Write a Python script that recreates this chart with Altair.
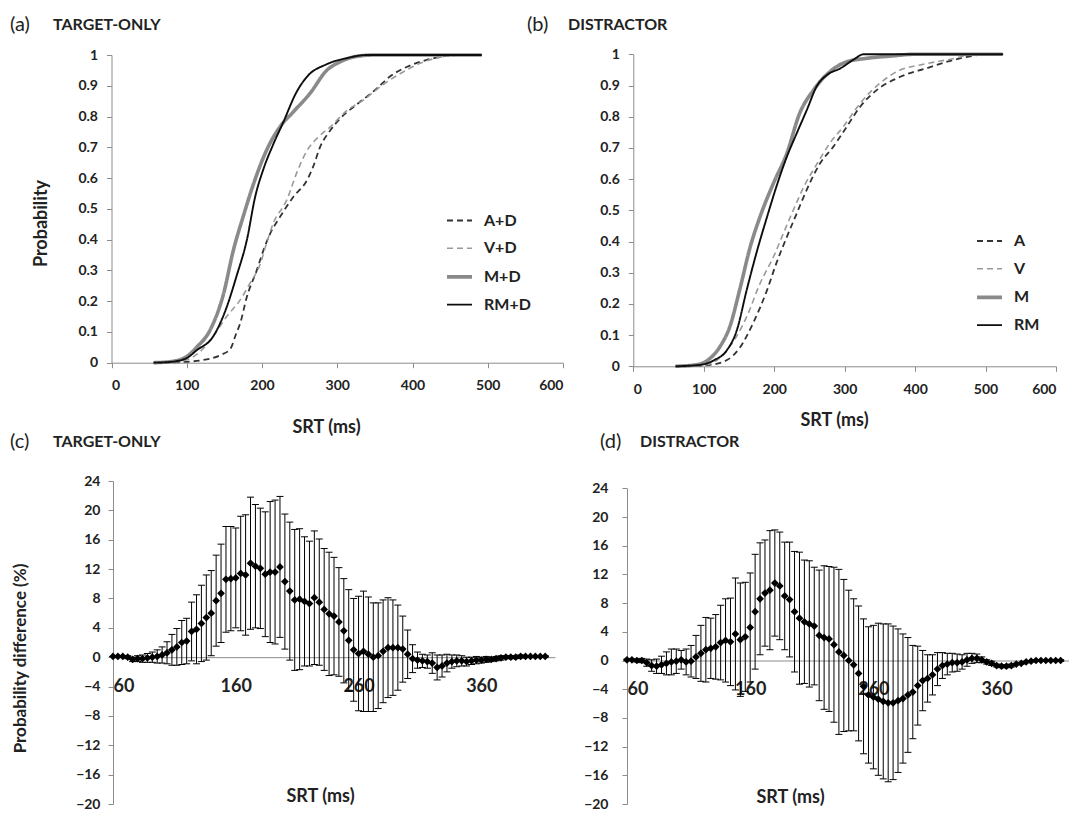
import altair as alt
import pandas as pd

W, H = 1061, 803
FONT = "Lato"
AXC = "#8c8c8c"
TXT = "#222222"

# ---------------- Panel (a): TARGET-ONLY cumulative distributions ----------------
a_series = ["A+D", "V+D", "M+D", "RM+D"]
a_AD_ms = [56, 90, 120, 145, 158, 165, 171, 180, 193, 202, 211, 224, 242, 260, 268, 277, 291, 304, 322, 339, 353, 370, 393, 419, 446, 460, 480]
a_AD_p = [0, 0.002, 0.008, 0.025, 0.045, 0.09, 0.128, 0.215, 0.30, 0.366, 0.42, 0.474, 0.54, 0.594, 0.637, 0.70, 0.756, 0.794, 0.832, 0.864, 0.892, 0.93, 0.962, 0.984, 0.997, 1.0, 1.0]
a_VD_ms = [56, 90, 115, 135, 153, 171, 184, 198, 206, 215, 233, 246, 260, 273, 291, 313, 335, 357, 384, 410, 437, 455, 480]
a_VD_p = [0, 0.004, 0.03, 0.085, 0.15, 0.204, 0.258, 0.323, 0.388, 0.453, 0.529, 0.616, 0.69, 0.729, 0.767, 0.82, 0.854, 0.897, 0.94, 0.973, 0.993, 1.0, 1.0]
a_MD_ms = [56, 80, 100, 113, 131, 149, 162, 175, 189, 206, 224, 242, 264, 286, 304, 330, 350, 492]
a_MD_p = [0, 0.004, 0.02, 0.05, 0.106, 0.225, 0.366, 0.475, 0.583, 0.69, 0.767, 0.816, 0.876, 0.95, 0.978, 0.997, 1.0, 1.0]
a_RMD_ms = [56, 80, 100, 113, 135, 153, 166, 180, 191, 202, 215, 228, 246, 260, 286, 313, 339, 492]
a_RMD_p = [0, 0.003, 0.015, 0.04, 0.085, 0.18, 0.28, 0.40, 0.54, 0.63, 0.71, 0.78, 0.88, 0.93, 0.97, 0.99, 1.0, 1.0]

# ---------------- Panel (b): DISTRACTOR cumulative distributions ----------------
b_series = ["A", "V", "M", "RM"]
b_A_ms = [60, 106, 133, 151, 170, 190, 203, 218, 232, 246, 265, 284, 303, 322, 346, 379, 416, 455, 482, 500, 522]
b_A_p = [0, 0.004, 0.02, 0.059, 0.138, 0.245, 0.33, 0.415, 0.49, 0.565, 0.65, 0.704, 0.768, 0.832, 0.886, 0.928, 0.955, 0.982, 0.995, 1.0, 1.0]
b_V_ms = [60, 101, 122, 137, 161, 180, 199, 213, 227, 242, 261, 279, 298, 322, 350, 379, 407, 445, 490, 522]
b_V_p = [0, 0.004, 0.025, 0.063, 0.159, 0.266, 0.351, 0.426, 0.50, 0.575, 0.65, 0.715, 0.768, 0.843, 0.907, 0.95, 0.966, 0.982, 1.0, 1.0]
b_M_ms = [60, 90, 106, 123, 137, 151, 166, 180, 199, 218, 236, 256, 279, 303, 331, 369, 397, 524]
b_M_p = [0, 0.005, 0.02, 0.063, 0.127, 0.245, 0.383, 0.48, 0.587, 0.683, 0.81, 0.886, 0.944, 0.976, 0.987, 0.995, 1.0, 1.0]
b_RM_ms = [60, 96, 115, 133, 147, 161, 176, 190, 203, 218, 232, 246, 261, 275, 294, 312, 327, 525]
b_RM_p = [0, 0.005, 0.02, 0.052, 0.116, 0.245, 0.373, 0.48, 0.575, 0.672, 0.747, 0.82, 0.90, 0.934, 0.955, 0.982, 1.0, 1.0]

# ---------------- Panels (c)/(d): probability difference (%) with error bars ----------------
diff_ms = list(range(60, 416, 4))
c_mean = [0.1, 0.1, 0.1, 0.0, -0.3, -0.2, -0.2, -0.1, 0.0, 0.1,
          0.3, 0.6, 1.0, 1.4, 2.0, 2.2, 3.5, 3.8, 4.6, 5.4,
          6.0, 7.7, 8.7, 10.6, 10.7, 10.8, 11.4, 11.2, 12.8, 12.4,
          12.1, 11.3, 11.6, 11.6, 12.3, 10.3, 9.0, 7.8, 7.9, 7.6,
          7.3, 8.1, 7.5, 6.5, 5.9, 5.6, 4.8, 3.6, 2.3, 1.0,
          0.5, 0.8, 0.4, 0.0, 0.2, 0.8, 1.3, 1.3, 1.3, 1.1,
          0.4, -0.2, -0.4, -0.5, -0.6, -0.8, -1.4, -1.2, -0.8, -0.6,
          -0.5, -0.5, -0.6, -0.5, -0.4, -0.4, -0.3, -0.3, -0.2, -0.1,
          0.0, 0.0, 0.0, 0.1, 0.1, 0.1, 0.1, 0.1, 0.1]
c_err = [0.0, 0.0, 0.1, 0.2, 0.3, 0.4, 0.5, 0.6, 0.7, 0.9,
         1.1, 1.5, 2.1, 2.5, 3.0, 3.1, 4.0, 4.7, 5.2, 5.8,
         5.8, 6.2, 6.7, 7.2, 7.1, 6.8, 7.8, 8.2, 9.0, 8.4,
         8.2, 8.5, 9.6, 9.8, 9.6, 9.2, 9.4, 9.6, 9.6, 8.8,
         8.5, 9.1, 8.6, 8.3, 8.4, 8.0, 7.4, 7.1, 6.9, 7.0,
         7.8, 8.2, 7.8, 7.4, 7.2, 7.0, 6.8, 6.5, 5.8, 4.5,
         3.3, 1.9, 1.1, 0.9, 0.9, 1.4, 1.7, 1.5, 1.2, 0.9,
         0.8, 0.7, 0.6, 0.5, 0.5, 0.4, 0.4, 0.3, 0.3, 0.3,
         0.2, 0.2, 0.2, 0.2, 0.1, 0.1, 0.1, 0.1, 0.1]
d_mean = [0.1, 0.1, 0.0, 0.0, -0.3, -0.7, -0.8, -0.6, -0.4, -0.2,
          -0.1, 0.1, -0.2, -0.1, 0.5, 1.0, 1.5, 1.7, 1.9, 2.5,
          2.8, 2.6, 3.7, 2.9, 3.3, 4.6, 6.8, 8.6, 9.4, 9.8,
          10.8, 10.4, 9.0, 8.5, 6.8, 5.9, 5.4, 5.1, 4.8, 3.5,
          3.2, 3.0, 2.2, 1.2, 0.7, 0.0, -0.6, -1.8, -3.6, -4.8,
          -5.1, -5.4, -5.7, -5.9, -5.9, -5.6, -5.3, -4.8, -4.4, -3.5,
          -2.8, -2.5, -2.0, -1.2, -0.7, -0.5, -0.3, -0.3, -0.2, 0.1,
          0.3, 0.3, 0.1, -0.2, -0.4, -0.7, -0.8, -0.8, -0.7, -0.5,
          -0.4, -0.2, -0.1, 0.0, 0.0, 0.0, 0.0, 0.0, 0.0]
d_err = [0.1, 0.1, 0.2, 0.3, 0.5, 0.8, 1.0, 1.2, 1.6, 1.8,
         1.7, 1.3, 1.8, 2.2, 3.0, 3.9, 4.5, 4.2, 4.5, 5.2,
         5.8, 6.1, 7.8, 7.9, 7.6, 7.6, 8.0, 7.8, 7.4, 8.3,
         7.4, 7.5, 7.5, 8.0, 8.4, 9.2, 8.6, 8.8, 8.2, 9.1,
         10.0, 10.1, 10.8, 11.5, 10.6, 9.8, 9.2, 9.4, 9.4, 9.5,
         10.0, 10.6, 10.8, 11.0, 10.7, 10.0, 9.0, 8.0, 6.5, 5.5,
         4.2, 3.3, 2.8, 2.3, 1.8, 1.5, 1.3, 1.2, 1.0, 0.9,
         0.7, 0.6, 0.4, 0.3, 0.3, 0.2, 0.2, 0.2, 0.2, 0.1,
         0.1, 0.1, 0.1, 0.1, 0.1, 0.1, 0.1, 0.1, 0.1]

cdf_x_ticks = [0, 100, 200, 300, 400, 500, 600]
cdf_y_ticks = [0, 0.1, 0.2, 0.3, 0.4, 0.5, 0.6, 0.7, 0.8, 0.9, 1]
diff_x_ticks = [60, 160, 260, 360]
diff_y_ticks = [-20, -16, -12, -8, -4, 0, 4, 8, 12, 16, 20, 24]

line_colors = ["#333333", "#9a9a9a", "#8a8a8a", "#0d0d0d"]
line_dashes = [[6, 4], [6, 4], [1, 0], [1, 0]]
line_widths = [1.8, 1.6, 3.6, 1.9]


def long_df(series, ms_lists, p_lists):
    rows = []
    for s, ms, p in zip(series, ms_lists, p_lists):
        for m, v in zip(ms, p):
            rows.append({"series": s, "ms": m, "p": v})
    return pd.DataFrame(rows)


def lab_style():
    return dict(labelFont=FONT, labelFontSize=14, labelFontWeight="bold", labelColor=TXT,
                domainColor=AXC, tickColor=AXC, grid=False)


def cdf_panel(df, series, xr, yr, leg_xy, xtitle_xy, ytitle_xy=None):
    leg = alt.Legend(orient="none", legendX=leg_xy[0], legendY=leg_xy[1], title=None,
                     symbolType="stroke", symbolSize=625, labelOffset=10, rowPadding=5.7,
                     labelFont=FONT, labelFontSize=16, labelFontWeight="bold", labelColor=TXT,
                     padding=0)
    ykw = dict(title=None)
    if ytitle_xy is not None:
        ykw = dict(title="Probability", titleX=ytitle_xy[0] - xr[0], titleY=ytitle_xy[1],
                   titleAngle=-90, titleBaseline="middle", titleAlign="center",
                   titleFont=FONT, titleFontSize=18, titleFontWeight="bold", titleColor=TXT)
    x = alt.X("ms:Q", scale=alt.Scale(domain=[0, 600], range=list(xr), nice=False, zero=False),
              axis=alt.Axis(orient="bottom", offset=yr[0] - H, values=cdf_x_ticks, tickSize=5,
                            labelPadding=11, title="SRT (ms)", titleX=xtitle_xy[0],
                            titleY=xtitle_xy[1] - yr[0], titleBaseline="middle", titleAlign="center",
                            titleFont=FONT, titleFontSize=18, titleFontWeight="bold", titleColor=TXT,
                            **lab_style()))
    y = alt.Y("p:Q", scale=alt.Scale(domain=[0, 1], range=list(yr), nice=False, zero=False),
              axis=alt.Axis(orient="left", offset=-xr[0], values=cdf_y_ticks, format="~g",
                            tickSize=5, labelPadding=9, **ykw, **lab_style()))
    color = alt.Color("series:N", scale=alt.Scale(domain=series, range=line_colors), legend=leg)
    dash = alt.StrokeDash("series:N", scale=alt.Scale(domain=series, range=line_dashes), legend=leg)
    sw = alt.StrokeWidth("series:N", scale=alt.Scale(type="ordinal", domain=series, range=line_widths),
                         legend=leg)
    return [alt.Chart(df).mark_line(interpolate="monotone").encode(
        x=x, y=y, color=color, strokeDash=dash, strokeWidth=sw)]


def diff_panel(ms, mean, err, xr, yr, xtitle_xy, ytitle_xy=None):
    df = pd.DataFrame({"ms": ms, "mean": mean,
                       "lo": [m - e for m, e in zip(mean, err)],
                       "hi": [m + e for m, e in zip(mean, err)]})
    xs = alt.Scale(domain=[60, 420], range=list(xr), nice=False, zero=False)
    ys = alt.Scale(domain=[-20, 24], range=list(yr), nice=False, zero=False)
    zero_px = yr[0] + (20 / 44) * (yr[1] - yr[0])
    ykw = dict(title=None)
    if ytitle_xy is not None:
        ykw = dict(title="Probability difference (%)", titleX=ytitle_xy[0] - xr[0], titleY=ytitle_xy[1],
                   titleAngle=-90, titleBaseline="middle", titleAlign="center",
                   titleFont=FONT, titleFontSize=17, titleFontWeight="bold", titleColor=TXT)
    xaxis = alt.Axis(orient="bottom", offset=zero_px - H, values=diff_x_ticks, ticks=False, tickSize=0,
                     labelPadding=20, labelFont=FONT, labelFontSize=18, labelFontWeight="bold",
                     labelColor=TXT, domainColor=AXC, grid=False,
                     title="SRT (ms)", titleX=xtitle_xy[0], titleY=xtitle_xy[1] - zero_px,
                     titleBaseline="middle", titleAlign="center", titleFont=FONT, titleFontSize=18,
                     titleFontWeight="bold", titleColor=TXT)
    yaxis = alt.Axis(orient="left", offset=-xr[0], values=diff_y_ticks, tickSize=5,
                     labelPadding=(8 if ytitle_xy is not None else 14), **ykw, **lab_style())
    base = alt.Chart(df)
    rules = base.mark_rule(color="black", strokeWidth=1).encode(
        x=alt.X("ms:Q", scale=xs, axis=xaxis), y=alt.Y("lo:Q", scale=ys, axis=yaxis), y2="hi:Q")
    cap_hi = base.mark_tick(orient="horizontal", size=7, thickness=1, color="black", opacity=1).encode(
        x=alt.X("ms:Q", scale=xs, axis=None), y=alt.Y("hi:Q", scale=ys, axis=None))
    cap_lo = base.mark_tick(orient="horizontal", size=7, thickness=1, color="black", opacity=1).encode(
        x=alt.X("ms:Q", scale=xs, axis=None), y=alt.Y("lo:Q", scale=ys, axis=None))
    pts = base.mark_point(shape="diamond", filled=True, size=60, color="black", opacity=1).encode(
        x=alt.X("ms:Q", scale=xs, axis=None), y=alt.Y("mean:Q", scale=ys, axis=None))
    return [rules, cap_hi, cap_lo, pts]


def header(txt, x, y, size, weight):
    return alt.Chart(pd.DataFrame({"t": [txt]})).mark_text(
        align="left", baseline="middle", font=FONT, fontSize=size, fontWeight=weight, color=TXT
    ).encode(x=alt.value(x), y=alt.value(y), text="t:N")


a_df = long_df(a_series, [a_AD_ms, a_VD_ms, a_MD_ms, a_RMD_ms], [a_AD_p, a_VD_p, a_MD_p, a_RMD_p])
b_df = long_df(b_series, [b_A_ms, b_V_ms, b_M_ms, b_RM_ms], [b_A_p, b_V_p, b_M_p, b_RM_p])

layers = []
layers += cdf_panel(a_df, a_series, (103.5, 555), (354.7, 47), (437, 199), (318, 419), (33, 215))
layers += cdf_panel(b_df, b_series, (625.3, 1048), (358.3, 46.3), (967, 219.5), (826, 412))
layers += diff_panel(diff_ms, c_mean, c_err, (105, 547), (796, 473), (312, 788), (12, 650))
layers += diff_panel(diff_ms, d_mean, d_err, (619, 1062.5), (796, 480.3), (782, 789))
layers += [
    header("(a)", 2, 17, 20, "normal"), header("TARGET-ONLY", 45, 17, 16, "bold"),
    header("(b)", 519, 17, 20, "normal"), header("DISTRACTOR", 560, 17, 16, "bold"),
    header("(c)", 2, 434, 20, "normal"), header("TARGET-ONLY", 45, 434, 16, "bold"),
    header("(d)", 592, 434, 20, "normal"), header("DISTRACTOR", 632, 434, 16, "bold"),
]

chart = alt.layer(*layers).resolve_scale(
    x="independent", y="independent", color="independent",
    strokeDash="independent", strokeWidth="independent"
).resolve_legend(
    color="independent", strokeDash="independent", strokeWidth="independent"
).properties(
    width=W, height=H, padding=0, background="white",
    autosize=alt.AutoSizeParams(type="none")
).configure_view(stroke=None)

chart.save("out.html", embed_options={"renderer": "svg", "actions": False})
